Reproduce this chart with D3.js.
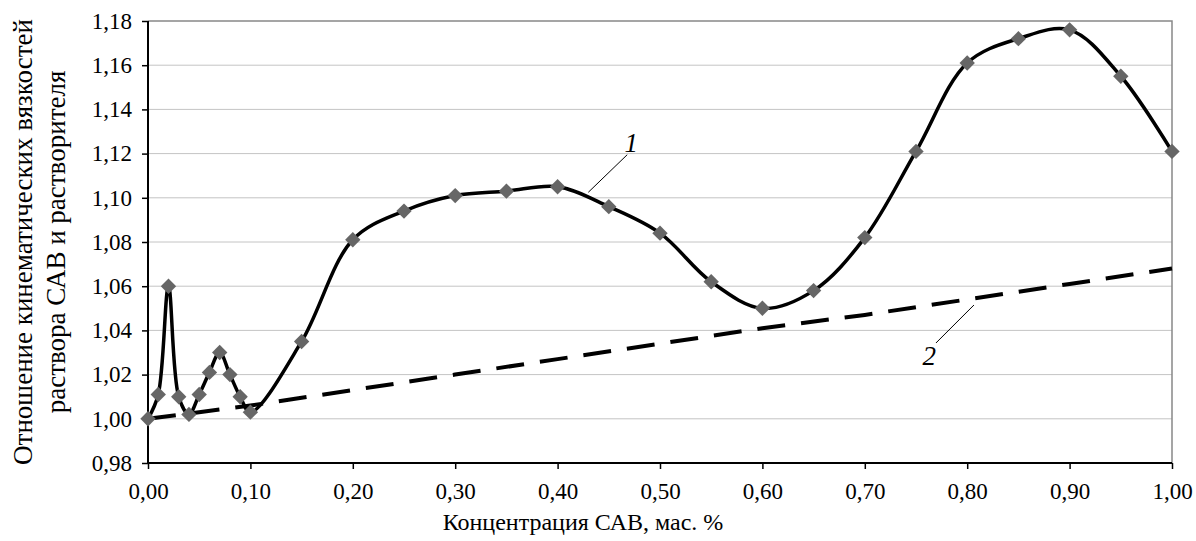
<!DOCTYPE html>
<html>
<head>
<meta charset="utf-8">
<script src="https://cdn.jsdelivr.net/npm/d3@7"></script>
<style>
  body { margin: 0; background: #fff; }
</style>
</head>
<body>
<svg id="chart"></svg>
<script>
// Curve 1: measured ratio (markers + smooth line)
const conc1 = [0, 0.01, 0.02, 0.03, 0.04, 0.05, 0.06, 0.07, 0.08, 0.09, 0.10,
  0.15, 0.20, 0.25, 0.30, 0.35, 0.40, 0.45, 0.50, 0.55, 0.60,
  0.65, 0.70, 0.75, 0.80, 0.85, 0.90, 0.95, 1.00]
const ratio1 = [1.000, 1.011, 1.060, 1.010, 1.002, 1.011, 1.021, 1.030, 1.020, 1.010, 1.003,
  1.035, 1.081, 1.094, 1.101, 1.103, 1.105, 1.096, 1.084, 1.062, 1.050,
  1.058, 1.082, 1.121, 1.161, 1.172, 1.176, 1.155, 1.121]

// Curve 2: dashed reference line
const conc2 = [0, 0.1, 0.2, 0.3, 0.4, 0.5, 0.6, 0.7, 0.8, 0.9, 1.0]
const ratio2 = [1.000, 1.006, 1.013, 1.020, 1.027, 1.034, 1.041, 1.047, 1.054, 1.061, 1.068]

// Axis ticks and titles
const xTicks = [0, 0.1, 0.2, 0.3, 0.4, 0.5, 0.6, 0.7, 0.8, 0.9, 1.0]
const yTicks = [0.98, 1.00, 1.02, 1.04, 1.06, 1.08, 1.10, 1.12, 1.14, 1.16, 1.18]
const xTitle = "Концентрация САВ, мас. %"
const yTitle = ["Отношение кинематических вязкостей", "раствора САВ и растворителя"]

// Curve labels with leader lines (data units)
const curveLabels = [
  { text: "1", x: 0.472, y: 1.1205, from: [0.468, 1.1195], to: [0.430, 1.1025] },
  { text: "2", x: 0.763, y: 1.0243, from: [0.7695, 1.0343], to: [0.8066, 1.0515] }
]

const width = 1196
const height = 541
const margin = { top: 21, right: 24, bottom: 78, left: 148 }
const serif = '"Liberation Serif", "Times New Roman", serif'

const svg = d3.select("#chart")
  .attr("width", width)
  .attr("height", height)

const x = d3.scaleLinear()
  .domain([0, 1])
  .range([margin.left, width - margin.right])

const y = d3.scaleLinear()
  .domain([0.98, 1.18])
  .range([height - margin.bottom, margin.top])

const fmt = v => d3.format(".2f")(v).replace(".", ",")

// Horizontal gridlines
svg.append("g")
  .selectAll("line")
  .data(yTicks.slice(1, -1))
  .join("line")
  .attr("x1", x(0))
  .attr("x2", x(1))
  .attr("y1", d => y(d))
  .attr("y2", d => y(d))
  .attr("stroke", "#c4c4c4")
  .attr("stroke-width", 1)

// Top and right frame
svg.append("path")
  .attr("d", `M${x(0)},${y(1.18)}H${x(1)}V${y(0.98)}`)
  .attr("fill", "none")
  .attr("stroke", "#888")
  .attr("stroke-width", 1.5)

// X axis
svg.append("g")
  .attr("transform", `translate(0, ${y(0.98)})`)
  .call(d3.axisBottom(x)
    .tickValues(xTicks)
    .tickFormat(fmt)
    .tickSize(6)
    .tickPadding(14))
  .call(g => g.select(".domain").attr("stroke-width", 2).attr("d", `M${x(0)},0H${x(1)}`))
  .call(g => g.selectAll(".tick line").attr("stroke-width", 1.5))
  .call(g => g.selectAll(".tick text")
    .style("font-family", serif)
    .style("font-size", "23px"))

// Y axis
svg.append("g")
  .attr("transform", `translate(${x(0)}, 0)`)
  .call(d3.axisLeft(y)
    .tickValues(yTicks)
    .tickFormat(fmt)
    .tickSize(6)
    .tickPadding(10))
  .call(g => g.select(".domain").attr("stroke-width", 2).attr("d", `M0,${y(0.98)}V${y(1.18)}`))
  .call(g => g.selectAll(".tick line").attr("stroke-width", 1.5))
  .call(g => g.selectAll(".tick text")
    .style("font-family", serif)
    .style("font-size", "23px"))

// Dashed curve 2
const data2 = conc2.map((c, i) => [c, ratio2[i]])
svg.append("path")
  .datum(data2)
  .attr("fill", "none")
  .attr("stroke", "#000")
  .attr("stroke-width", 4)
  .attr("stroke-dasharray", "28,16")
  .attr("d", d3.line()
    .x(d => x(d[0]))
    .y(d => y(d[1])))

// Smooth curve 1
const data1 = conc1.map((c, i) => [c, ratio1[i]])
svg.append("path")
  .datum(data1)
  .attr("fill", "none")
  .attr("stroke", "#000")
  .attr("stroke-width", 3.5)
  .attr("stroke-linejoin", "round")
  .attr("d", d3.line()
    .curve(d3.curveCatmullRom.alpha(0.5))
    .x(d => x(d[0]))
    .y(d => y(d[1])))

// Diamond markers
svg.append("g")
  .selectAll("path")
  .data(data1)
  .join("path")
  .attr("transform", d => `translate(${x(d[0])}, ${y(d[1])}) rotate(45)`)
  .attr("d", d3.symbol(d3.symbolSquare, 118))
  .attr("fill", "#666")

// Curve labels
const labels = svg.append("g")
labels.selectAll("line")
  .data(curveLabels)
  .join("line")
  .attr("x1", d => x(d.from[0]))
  .attr("y1", d => y(d.from[1]))
  .attr("x2", d => x(d.to[0]))
  .attr("y2", d => y(d.to[1]))
  .attr("stroke", "#000")
  .attr("stroke-width", 1)
labels.selectAll("text")
  .data(curveLabels)
  .join("text")
  .attr("x", d => x(d.x))
  .attr("y", d => y(d.y))
  .attr("text-anchor", "middle")
  .style("font-family", serif)
  .style("font-style", "italic")
  .style("font-size", "27px")
  .text(d => d.text)

// Axis titles
svg.append("text")
  .attr("x", 583)
  .attr("y", 530)
  .attr("text-anchor", "middle")
  .style("font-family", serif)
  .style("font-size", "24px")
  .text(xTitle)

svg.append("g")
  .attr("transform", `translate(0, ${(y(0.98) + y(1.18)) / 2}) rotate(-90)`)
  .selectAll("text")
  .data(yTitle)
  .join("text")
  .attr("x", 0)
  .attr("y", (d, i) => 32 + i * 33)
  .attr("text-anchor", "middle")
  .style("font-family", serif)
  .style("font-size", "27px")
  .text(d => d)
</script>
</body>
</html>
